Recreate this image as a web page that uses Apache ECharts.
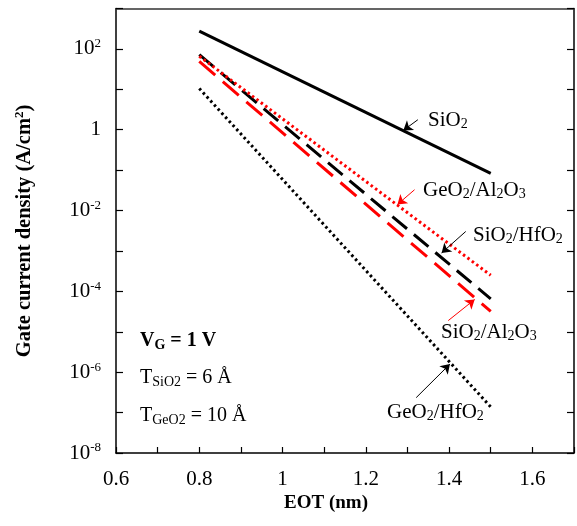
<!DOCTYPE html>
<html>
<head>
<meta charset="utf-8">
<script src="https://cdn.jsdelivr.net/npm/echarts@6/dist/echarts.min.js"></script>
<style>html,body{margin:0;padding:0;background:#fff}#c{width:577px;height:526px}</style>
</head>
<body>
<div id="c"></div>
<script>
// ---- data ----
const eot = [0.8, 1.5];
const sio2 = [275, 0.083];
const sio2Hfo2 = [72, 6.5e-5];
const geo2Al2o3 = [66, 2.5e-4];
const sio2Al2o3 = [49, 3.2e-5];
const geo2Hfo2 = [10.5, 1.38e-7];
const xTickLabels = ['0.6', '0.8', '1', '1.2', '1.4', '1.6'];
const yTickExponents = [-8, -6, -4, -2, 0, 2];

const FONT = '"Liberation Serif", "Times New Roman", serif';
const RED = '#ff0000';
const pairs = arr => eot.map((x, i) => [x, arr[i]]);

const chart = echarts.init(document.getElementById('c'), null, {renderer: 'canvas'});

function arrow(from, to, color) {
  return [{coord: from, symbol: 'none'}, {coord: to, symbol: 'arrow', lineStyle: {color: color}}];
}

const rich = {
  b: {fontFamily: FONT, fontSize: 21, color: '#000'},
  s: {fontFamily: FONT, fontSize: 13, color: '#000', padding: [0, 0, 10, 0]}
};

const option = {
  animation: false,
  backgroundColor: '#fff',
  grid: {left: 116, top: 8.5, right: -2, bottom: 73, containLabel: false},
  xAxis: [{
    type: 'value', min: 0.6, max: 1.7, interval: 0.1,
    axisLine: {show: true, lineStyle: {color: '#000', width: 1.5}},
    axisTick: {show: true, inside: true, length: 6, lineStyle: {color: '#000', width: 1.2}},
    splitLine: {show: false},
    axisLabel: {
      margin: 16, fontFamily: FONT, fontSize: 21, color: '#000',
      formatter: v => {
        const s = String(Math.round(v * 10) / 10);
        return xTickLabels.indexOf(s) >= 0 ? s : '';
      }
    }
  }, {
    type: 'value', position: 'top', min: 0.6, max: 1.7,
    axisLine: {show: true, lineStyle: {color: '#333', width: 1.5}},
    axisTick: {show: false}, axisLabel: {show: false}, splitLine: {show: false}
  }],
  yAxis: [{
    type: 'log', logBase: 10, min: 1e-8, max: 1e3, interval: 1,
    axisLine: {show: true, lineStyle: {color: '#000', width: 1.5}},
    axisTick: {show: true, inside: true, length: 7, lineStyle: {color: '#000', width: 1.2}},
    splitLine: {show: false},
    axisLabel: {
      margin: 15, rich: rich,
      formatter: v => {
        const e = Math.round(Math.log10(v));
        if (yTickExponents.indexOf(e) < 0) return '';
        if (e === 0) return '{b|1}';
        return '{b|10}{s|' + e + '}';
      }
    }
  }, {
    type: 'log', logBase: 10, min: 1e-8, max: 1e3, interval: 1, position: 'right',
    axisLine: {show: true, lineStyle: {color: '#000', width: 1.5}},
    axisTick: {show: true, inside: true, length: 7, lineStyle: {color: '#000', width: 1.2}},
    axisLabel: {show: false}, splitLine: {show: false}
  }],
  series: [
    {type: 'line', name: 'SiO2', data: pairs(sio2), showSymbol: false, symbol: 'none',
     lineStyle: {color: '#000', width: 3, type: 'solid'},
     markLine: {silent: true, symbol: ['none', 'arrow'], symbolSize: 9, label: {show: false},
       lineStyle: {color: '#000', width: 1, type: 'solid'},
       data: [
         arrow([1.325, 1.77], [1.290, 0.96], '#000'),
         arrow([1.440, Math.pow(10, -2.518)], [1.382, Math.pow(10, -3.05)], '#000'),
         arrow([1.321, Math.pow(10, -6.63)], [1.402, Math.pow(10, -5.80)], '#000')
       ]}},
    {type: 'line', name: 'GeO2/Al2O3', data: pairs(geo2Al2o3), showSymbol: false, symbol: 'none', z: 3,
     lineStyle: {color: RED, width: 3, type: [2.5, 3], cap: 'butt'},
     markLine: {silent: true, symbol: ['none', 'arrow'], symbolSize: 9, label: {show: false},
       lineStyle: {color: RED, width: 1, type: 'solid'},
       data: [
         arrow([1.317, Math.pow(10, -1.485)], [1.276, Math.pow(10, -1.85)], RED),
         arrow([1.398, Math.pow(10, -4.723)], [1.4615, Math.pow(10, -4.20)], RED)
       ]}},
    {type: 'line', name: 'SiO2/HfO2', data: pairs(sio2Hfo2), showSymbol: false, symbol: 'none', z: 2,
     lineStyle: {color: '#000', width: 3, type: [19, 9], cap: 'butt'}},
    {type: 'line', name: 'SiO2/Al2O3', data: pairs(sio2Al2o3), showSymbol: false, symbol: 'none',
     lineStyle: {color: RED, width: 3, type: [21, 10], cap: 'butt'}},
    {type: 'line', name: 'GeO2/HfO2', data: pairs(geo2Hfo2), showSymbol: false, symbol: 'none',
     lineStyle: {color: '#000', width: 3, type: [2.5, 3], cap: 'butt'}}
  ],
  graphic: []
};

const tr = (c, n, s) => ({
  n: {fontFamily: FONT, fontSize: n, color: c},
  sb: {fontFamily: FONT, fontSize: s, color: c, padding: [9, 0, 0, 0]},
  bn: {fontFamily: FONT, fontSize: n, fontWeight: 'bold', color: c},
  bsb: {fontFamily: FONT, fontSize: s, fontWeight: 'bold', color: c, padding: [9, 0, 0, 0]},
  sup: {fontFamily: FONT, fontSize: s, fontWeight: 'bold', color: c, padding: [0, 0, 10, 0]}
});
const ann = (x, y, text, color, n, s) =>
  ({type: 'text', x: x, y: y, style: {text: text, rich: tr(color, n, s), verticalAlign: 'middle'}});

option.graphic = [
  ann(428, 120, '{n|SiO}{sb|2}', '#000', 21, 14),
  ann(423, 190, '{n|GeO}{sb|2}{n|/Al}{sb|2}{n|O}{sb|3}', RED, 21, 14),
  ann(473, 235, '{n|SiO}{sb|2}{n|/HfO}{sb|2}', '#000', 21, 14),
  ann(441, 332, '{n|SiO}{sb|2}{n|/Al}{sb|2}{n|O}{sb|3}', RED, 21, 14),
  ann(387, 412, '{n|GeO}{sb|2}{n|/HfO}{sb|2}', '#000', 21, 14),
  ann(140, 341, '{bn|V}{bsb|G}{bn| = 1 V}', '#000', 20, 14),
  ann(140, 378, '{n|T}{sb|SiO2}{n| = 6 Å}', '#000', 20, 14),
  ann(140, 416, '{n|T}{sb|GeO2}{n| = 10 Å}', '#000', 20, 14),
  {type: 'text', x: 326, y: 503, style: {text: 'EOT (nm)', font: 'bold 19px ' + FONT, fill: '#000', align: 'center', verticalAlign: 'middle'}},
  {type: 'text', x: 25, y: 231, rotation: Math.PI / 2,
   style: {text: '{bn|Gate current density (A/cm}{sup|2}{bn|)}', rich: tr('#000', 20.5, 13), align: 'center', verticalAlign: 'middle'}}
];

chart.setOption(option);
</script>
</body>
</html>
